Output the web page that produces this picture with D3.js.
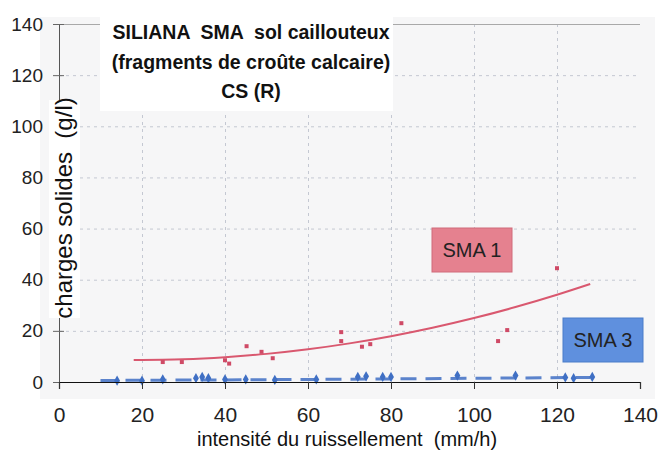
<!DOCTYPE html>
<html>
<head>
<meta charset="utf-8">
<script src="https://cdn.jsdelivr.net/npm/d3@7/dist/d3.min.js"></script>
<style>
  html, body { margin: 0; padding: 0; background: #ffffff; }
  svg { display: block; font-family: "Liberation Sans", Arial, sans-serif; }
  text { white-space: pre; }
</style>
</head>
<body>
<svg id="chart" width="658" height="451"></svg>
<script>
// Intensity (mm/h) vs. solid load (g/l), plot SMA 1 and SMA 3
const xTicks = [0, 20, 40, 60, 80, 100, 120, 140];
const yTicks = [0, 20, 40, 60, 80, 100, 120, 140];

// SMA 1 measurements
const sma1X = [25, 29.6, 40, 41, 45.2, 48.8, 51.5, 68, 68, 73, 75, 82.5, 105.8, 108, 120];
const sma1Y = [7.8, 7.8, 8.5, 7.2, 14, 11.8, 9.3, 19.5, 16, 13.8, 14.8, 23, 16, 20.3, 44.5];
// SMA 1 trend curve
const trend1X = [18, 30, 40, 50, 60, 70, 80, 90, 100, 110, 120, 128];
const trend1Y = [8.6, 8.9, 9.7, 11.0, 12.8, 15.1, 17.9, 21.2, 25.0, 29.3, 34.1, 38.3];

// SMA 3 measurements
const sma3X = [14, 20, 25, 33, 34.5, 36, 40, 45, 52, 62, 72, 74, 78, 80, 96, 110, 122, 124, 128.5];
const sma3Y = [0.5, 0.5, 1, 1.5, 2, 1.5, 1, 1, 0.8, 1, 2, 2.2, 2, 2, 2.5, 2.5, 1.8, 1.5, 2];
// SMA 3 trend line
const trend3X = [10, 70, 128];
const trend3Y = [0.6, 1.1, 1.8];

const titleLines = ["SILIANA  SMA  sol caillouteux", "(fragments de croûte calcaire)", "CS (R)"];
const xLabel = "intensité du ruissellement  (mm/h)";
const yLabel = "charges solides  (g/l)";
const tagLabels = ["SMA 1", "SMA 3"];

const FONT = "'Liberation Sans', Arial, sans-serif";
const svg = d3.select("#chart");
const x = d3.scaleLinear().domain([0, 140]).range([59, 640]);
const y = d3.scaleLinear().domain([0, 140]).range([382, 24]);

const red = "#d9586f";
const blue = "#3f6fc4";

// plot background
svg.append("rect").attr("x", 40).attr("y", 17).attr("width", 615).attr("height", 382)
  .attr("fill", "#f6f6f7");

// grid
const grid = svg.append("g").attr("stroke", "#c4c8d2").attr("stroke-width", 1)
  .attr("stroke-dasharray", "3,4");
grid.selectAll("line.h").data(yTicks.filter(d => d > 0 && d < 140)).join("line")
  .attr("class", "h")
  .attr("x1", x(0)).attr("x2", x(140))
  .attr("y1", d => y(d) + 0.5).attr("y2", d => y(d) + 0.5);
grid.selectAll("line.v").data(xTicks.filter(d => d > 0 && d < 140)).join("line")
  .attr("class", "v")
  .attr("y1", y(140)).attr("y2", y(0))
  .attr("x1", d => x(d) + 0.5).attr("x2", d => x(d) + 0.5);

// top frame line
svg.append("line").attr("x1", x(0)).attr("x2", x(140))
  .attr("y1", y(140) + 0.5).attr("y2", y(140) + 0.5)
  .attr("stroke", "#a9a9a9").attr("stroke-width", 1);

// y axis
const yAxis = d3.axisLeft(y).tickValues(yTicks).tickSize(0).tickPadding(16);
const yg = svg.append("g").attr("transform", `translate(${x(0)},0)`).call(yAxis);
yg.select(".domain").attr("stroke", "#555");
yg.selectAll(".tick text").attr("font-size", 19).attr("fill", "#222").attr("font-family", FONT);
yg.selectAll(".tick").append("line").attr("x1", -6).attr("x2", 5).attr("stroke", "#666");

// title block
svg.append("rect").attr("x", 100).attr("y", 9).attr("width", 293).attr("height", 102).attr("fill", "#ffffff");
svg.append("g").selectAll("text").data(titleLines).join("text")
  .attr("x", 251).attr("y", (d, i) => [39, 69, 98][i])
  .attr("text-anchor", "middle").attr("font-size", 19.5).attr("font-weight", "bold")
  .attr("font-family", FONT).attr("fill", "#111").text(d => d);

// y label
svg.append("rect").attr("x", 49).attr("y", 100).attr("width", 31).attr("height", 218).attr("fill", "#ffffff");
svg.append("text").attr("transform", "translate(72,208) rotate(-90)")
  .attr("text-anchor", "middle").attr("font-size", 24).attr("font-family", FONT)
  .attr("fill", "#111").text(yLabel);

// SMA 3 dashed trend
const line = d3.line().x(d => x(d[0])).y(d => y(d[1])).curve(d3.curveMonotoneX);
svg.append("path").datum(d3.zip(trend3X, trend3Y)).attr("d", line)
  .attr("fill", "none").attr("stroke", blue).attr("stroke-width", 3)
  .attr("stroke-dasharray", "16,9").attr("opacity", 0.85);

// SMA 3 points
svg.append("g").selectAll("path").data(d3.zip(sma3X, sma3Y)).join("path")
  .attr("transform", d => `translate(${x(d[0])},${y(d[1])})`)
  .attr("d", d3.symbol(d3.symbolDiamond, 30)).attr("fill", blue);

// x axis
const xAxis = d3.axisBottom(x).tickValues(xTicks).tickSize(7).tickPadding(18);
const xg = svg.append("g").attr("transform", `translate(0,${y(0)})`).call(xAxis);
xg.select(".domain").attr("stroke", "#111").attr("stroke-width", 1.2);
xg.selectAll(".tick line").attr("stroke", "#333");
xg.selectAll(".tick text").attr("font-size", 21).attr("fill", "#222").attr("font-family", FONT);

svg.append("text").attr("x", 347).attr("y", 446).attr("text-anchor", "middle")
  .attr("font-size", 20).attr("font-family", FONT).attr("fill", "#111").text(xLabel);

// SMA 1 trend and points
svg.append("path").datum(d3.zip(trend1X, trend1Y)).attr("d", line)
  .attr("fill", "none").attr("stroke", red).attr("stroke-width", 2);
svg.append("g").selectAll("rect").data(d3.zip(sma1X, sma1Y)).join("rect")
  .attr("x", d => x(d[0]) - 2).attr("y", d => y(d[1]) - 2)
  .attr("width", 4).attr("height", 4).attr("fill", "#cf4a66");

// series tags
const tags = [
  { label: tagLabels[0], x0: 432, y0: 228, fill: "#e5818f", stroke: "#d06a7a" },
  { label: tagLabels[1], x0: 563, y0: 318, fill: "#5f90de", stroke: "#4a7cc9" }
];
const tg = svg.append("g").selectAll("g").data(tags).join("g");
tg.append("rect").attr("x", d => d.x0).attr("y", d => d.y0).attr("width", 80).attr("height", 44)
  .attr("fill", d => d.fill).attr("stroke", d => d.stroke);
tg.append("text").attr("x", d => d.x0 + 40).attr("y", d => d.y0 + 29)
  .attr("text-anchor", "middle").attr("font-size", 20).attr("font-family", FONT)
  .attr("fill", "#222").text(d => d.label);
</script>
</body>
</html>
